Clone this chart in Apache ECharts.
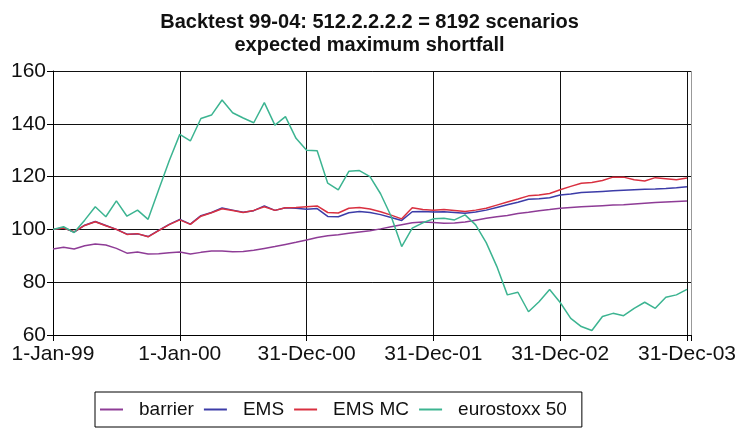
<!DOCTYPE html>
<html lang="en">
<head>
    <meta charset="UTF-8">
    <title>Backtest 99-04</title>
    <script src="https://cdn.jsdelivr.net/npm/echarts@6/dist/echarts.min.js"></script>
    <style>
        html, body { margin: 0; padding: 0; background: #fff; }
        #main { width: 739px; height: 431px; }
    </style>
</head>
<body>
<div id="main"></div>
<script>
    // monthly points, Jan-99 .. Dec-03 (61 values each)
    var xLabels = ['1-Jan-99', '1-Jan-00', '31-Dec-00', '31-Dec-01', '31-Dec-02', '31-Dec-03'];
    var seriesNames = ['barrier', 'EMS', 'EMS MC', 'eurostoxx 50'];

    var barrier = [92.6, 93.2, 92.6, 93.8, 94.5, 94.1, 92.8, 91, 91.4, 90.7, 90.8, 91.2, 91.4,
        90.7, 91.3, 91.8, 91.8, 91.5, 91.6, 92.1, 92.8, 93.5, 94.3, 95.1, 96,
        96.9, 97.6, 98, 98.5, 99, 99.5, 100.2, 101, 101.8, 102.5, 102.8, 102.6,
        102.3, 102.4, 102.8, 103.5, 104.2, 104.8, 105.3, 106, 106.5, 107.1, 107.5, 108,
        108.3, 108.6, 108.8, 109, 109.2, 109.3, 109.6, 109.9, 110.2, 110.4, 110.6, 110.8];

    var ems = [100, 100.6, 99, 101.6, 103, 101.5, 100, 98.2, 98.3, 97.3, 99.6, 101.9, 103.8,
        102, 105.2, 106.4, 108.1, 107.3, 106.5, 107.1, 108.9, 107.2, 108.2, 108, 107.6,
        107.9, 104.9, 104.8, 106.3, 106.8, 106.4, 105.6, 104.5, 103.4, 106.7, 106.8, 106.6,
        106.7, 106.4, 106.1, 106.6, 107.3, 108.3, 109.3, 110.3, 111.4, 111.6, 112, 113,
        113.4, 114, 114.2, 114.4, 114.6, 114.8, 115, 115.2, 115.3, 115.5, 115.8, 116.2];

    var emsMc = [100, 100.5, 99.1, 101.5, 102.9, 101.4, 100, 98.1, 98.4, 97.2, 99.5, 101.8, 103.6,
        101.9, 105, 106.3, 107.8, 107.2, 106.4, 107.2, 108.6, 107.2, 108.2, 108.3, 108.6,
        108.9, 106.4, 106.2, 108, 108.3, 107.7, 106.7, 105.4, 104, 108.2, 107.5, 107.3,
        107.5, 107.2, 106.8, 107.3, 108, 109.2, 110.4, 111.5, 112.7, 113, 113.6, 115,
        116.3, 117.5, 117.8, 118.5, 119.8, 119.8, 118.8, 118.3, 119.6, 119.2, 118.8, 119.5];

    var stoxx = [100, 101, 98.8, 103.5, 108.6, 104.8, 110.8, 105, 107.3, 103.8, 115, 126, 136,
        133.5, 142, 143.3, 149, 144.2, 142.2, 140.4, 148, 139.5, 142.7, 134.5, 130,
        129.8, 117.5, 115, 122, 122.3, 120, 113.5, 105, 93.5, 100.5, 102.5, 104,
        104.2, 103.6, 105.5, 101.7, 95, 86, 75.2, 76.2, 68.8, 72.6, 77.2, 72.3,
        66.3, 63.2, 61.7, 67, 68.2, 67.3, 70.1, 72.4, 70.1, 74.3, 75.2, 77.3];

    var colors = ['#8e3c96', '#3c3ca8', '#d93040', '#3cb491'];
    var font = 'Liberation Sans, Arial, sans-serif';

    function toPoints(arr) {
        return arr.map(function (v, i) { return [i, v]; });
    }

    var allData = [barrier, ems, emsMc, stoxx];
    var series = [];
    for (var i = 0; i < allData.length; i++) {
        series.push({
            name: seriesNames[i],
            type: 'line',
            symbol: 'none',
            data: toPoints(allData[i]),
            lineStyle: { width: 1.5, color: colors[i] },
            itemStyle: { color: colors[i] }
        });
    }

    var option = {
        animation: false,
        backgroundColor: '#fff',
        textStyle: { fontFamily: font },
        title: {
            text: 'Backtest 99-04: 512.2.2.2.2 = 8192 scenarios\nexpected maximum shortfall',
            left: 'center',
            top: 6,
            textStyle: { fontFamily: font, fontSize: 20, fontWeight: 'bold', color: '#111', lineHeight: 23 }
        },
        legend: {
            data: seriesNames,
            left: 95,
            top: 392,
            padding: [8, 15, 8, 5],
            borderColor: '#000',
            borderWidth: 1,
            itemGap: 10,
            itemWidth: 23,
            itemHeight: 2,
            icon: 'rect',
            textStyle: { fontFamily: font, fontSize: 19, color: '#111', padding: [0, 0, 0, 11] }
        },
        grid: { left: 53, right: 46, top: 71, bottom: 96 },
        xAxis: {
            type: 'value',
            min: 0,
            max: 60.4,
            interval: 12,
            axisLine: { lineStyle: { color: '#000', width: 1 } },
            axisTick: { show: true, length: 6, lineStyle: { color: '#000' } },
            axisLabel: {
                margin: 9,
                fontSize: 21,
                color: '#111',
                fontFamily: font,
                formatter: function (v) {
                    return v % 12 === 0 ? xLabels[v / 12] : '';
                }
            },
            splitLine: {
                show: true,
                lineStyle: { color: ['#111', '#111', '#111', '#111', '#111', '#111', '#999'], width: 1 }
            }
        },
        yAxis: {
            type: 'value',
            min: 60,
            max: 160,
            interval: 20,
            axisLine: { show: true, lineStyle: { color: '#000', width: 1 } },
            axisTick: { show: true, length: 6, lineStyle: { color: '#000' } },
            axisLabel: { margin: 7, fontSize: 21, color: '#111', fontFamily: font },
            splitLine: { show: true, lineStyle: { color: '#111', width: 1 } }
        },
        series: series
    };

    var myChart = echarts.init(document.getElementById('main'), null, { renderer: 'canvas' });
    myChart.setOption(option);
</script>
</body>
</html>
